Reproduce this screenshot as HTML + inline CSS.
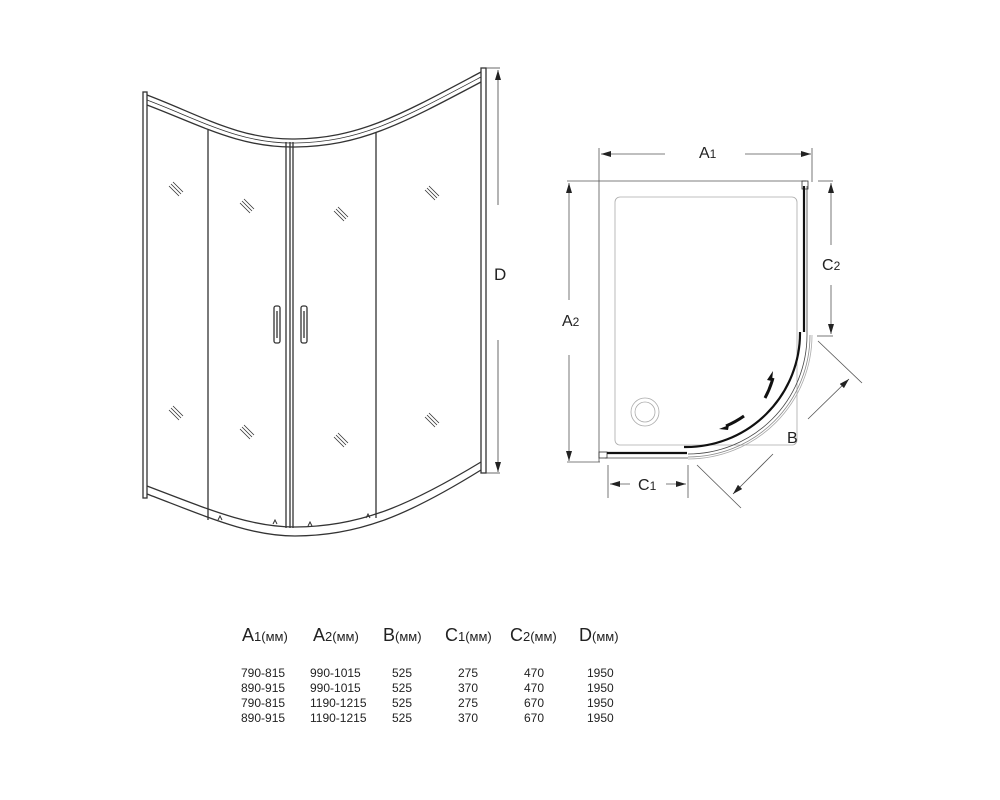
<!DOCTYPE html>
<html><head><style>
body{margin:0;background:#fff;}
svg{display:block;}
text{font-family:"Liberation Sans",sans-serif;fill:#222;}
</style></head><body>
<svg width="1000" height="800" viewBox="0 0 1000 800" xmlns="http://www.w3.org/2000/svg">
<defs>
<marker id="ar" markerWidth="10" markerHeight="6" refX="10" refY="3" orient="auto" markerUnits="userSpaceOnUse">
<path d="M0,0 L10,3 L0,6 z" fill="#222"/></marker>
</defs>
<g fill="none" stroke="#333" stroke-width="1.3">
<rect x="143" y="92" width="4" height="406"/>
<rect x="481" y="68" width="5" height="405"/>
<!-- top curves -->
<path d="M147,95 C200,115 240,140 295,139 C360,138 400,115 481,72"/>
<path d="M147,105 C200,125 240,148 295,147 C360,146 400,125 481,82"/>
<path d="M147,100 C200,120 240,144 295,143 C360,142 400,120 481,77" stroke-width="0.8"/>
<!-- bottom curves -->
<path d="M147,486 C210,510 250,527 295,527 C360,527 410,505 481,462"/>
<path d="M147,494 C210,518 250,536 295,536 C360,536 410,514 481,470"/>
<line x1="208" y1="130" x2="208" y2="520"/>
<line x1="286" y1="142" x2="286" y2="528"/>
<line x1="290" y1="142" x2="290" y2="528"/>
<line x1="293" y1="142" x2="293" y2="528"/>
<line x1="376" y1="132" x2="376" y2="518"/>
<rect x="274" y="306" width="6" height="37" rx="2"/>
<line x1="277" y1="311" x2="277" y2="338"/>
<rect x="301" y="306" width="6" height="37" rx="2"/>
<line x1="304" y1="311" x2="304" y2="338"/>
<path d="M218,520 l2,-4 l2,4 M273,524 l2,-4 l2,4 M308,526 l2,-4 l2,4 M366,518 l2,-4 l2,4" stroke-width="1"/>
<g stroke-width="0.8">
<path d="M169,186 l10,10 M171,184 l10,10 M173,182 l10,10"/>
<path d="M240,203 l10,10 M242,201 l10,10 M244,199 l10,10"/>
<path d="M334,211 l10,10 M336,209 l10,10 M338,207 l10,10"/>
<path d="M425,190 l10,10 M427,188 l10,10 M429,186 l10,10"/>
<path d="M169,410 l10,10 M171,408 l10,10 M173,406 l10,10"/>
<path d="M240,429 l10,10 M242,427 l10,10 M244,425 l10,10"/>
<path d="M334,437 l10,10 M336,435 l10,10 M338,433 l10,10"/>
<path d="M425,417 l10,10 M427,415 l10,10 M429,413 l10,10"/>
</g>
</g>
<g stroke="#444" stroke-width="0.8" fill="none">
<line x1="486" y1="68" x2="500" y2="68"/>
<line x1="486" y1="473" x2="500" y2="473"/>
<line x1="498" y1="205" x2="498" y2="70" marker-end="url(#ar)"/>
<line x1="498" y1="340" x2="498" y2="472" marker-end="url(#ar)"/>
</g>
<text x="494" y="280" font-size="17">D</text>

<g fill="none" stroke="#555" stroke-width="0.8">
<line x1="599" y1="148" x2="599" y2="462"/>
<line x1="812" y1="148" x2="812" y2="182"/>
<line x1="567" y1="181" x2="806" y2="181"/>
<line x1="567" y1="462" x2="600" y2="462"/>
<line x1="665" y1="154" x2="601" y2="154" marker-end="url(#ar)"/>
<line x1="745" y1="154" x2="811" y2="154" marker-end="url(#ar)"/>
<line x1="569" y1="300" x2="569" y2="183" marker-end="url(#ar)"/>
<line x1="569" y1="355" x2="569" y2="461" marker-end="url(#ar)"/>
<rect x="615" y="197" width="182" height="248" rx="5" stroke="#aaa"/>
<circle cx="645" cy="412" r="14" stroke="#aaa"/>
<circle cx="645" cy="412" r="10" stroke="#aaa"/>
<line x1="818" y1="181" x2="833" y2="181"/>
<line x1="817" y1="336" x2="833" y2="336"/>
<line x1="831" y1="245" x2="831" y2="183" marker-end="url(#ar)"/>
<line x1="831" y1="285" x2="831" y2="334" marker-end="url(#ar)"/>
<line x1="608" y1="465" x2="608" y2="498"/>
<line x1="688" y1="465" x2="688" y2="498"/>
<line x1="630" y1="484" x2="610" y2="484" marker-end="url(#ar)"/>
<line x1="666" y1="484" x2="686" y2="484" marker-end="url(#ar)"/>
<line x1="818" y1="341" x2="862" y2="383"/>
<line x1="697" y1="465" x2="741" y2="508"/>
<line x1="808" y1="419" x2="849" y2="379" marker-end="url(#ar)"/>
<line x1="773" y1="454" x2="733" y2="494" marker-end="url(#ar)"/>
<path d="M810,335 A122,122 0 0 1 688,457" stroke="#888"/>
<path d="M807,335 A119,119 0 0 1 688,454" stroke="#444"/>
<path d="M812,335 A124,124 0 0 1 688,459" stroke="#aaa"/>
<line x1="605" y1="458" x2="688" y2="458" stroke="#444"/>
<line x1="807" y1="186" x2="807" y2="335" stroke="#444"/>
<rect x="599" y="452" width="8" height="6" stroke="#333"/>
<rect x="802" y="181" width="6" height="8" stroke="#333"/>
</g>
<g fill="none" stroke="#111" stroke-width="2.2">
<line x1="804" y1="186" x2="804" y2="332"/>
<line x1="607" y1="453" x2="687" y2="453"/>
<path d="M800,332 A114,114 0 0 1 684,447"/>
<path d="M765,398 A95,95 0 0 0 773,378" stroke-width="3"/>
<path d="M744,416 A95,95 0 0 1 726,426" stroke-width="3"/>
</g>
<path d="M773,371 l-6,9 l5,1 z" fill="#111"/>
<path d="M719,429 l10,-4 l-1,5 z" fill="#111"/>
<text x="699" y="158" font-size="16">A<tspan font-size="12">1</tspan></text>
<text x="562" y="326" font-size="16">A<tspan font-size="12">2</tspan></text>
<text x="822" y="270" font-size="16">C<tspan font-size="12">2</tspan></text>
<text x="638" y="490" font-size="16">C<tspan font-size="12">1</tspan></text>
<text x="787" y="443" font-size="16">B</text>

<g font-size="18">
<text x="242" y="641">A<tspan font-size="13">1(мм)</tspan></text>
<text x="313" y="641">A<tspan font-size="13">2(мм)</tspan></text>
<text x="383" y="641">B<tspan font-size="13">(мм)</tspan></text>
<text x="445" y="641">C<tspan font-size="13">1(мм)</tspan></text>
<text x="510" y="641">C<tspan font-size="13">2(мм)</tspan></text>
<text x="579" y="641">D<tspan font-size="13">(мм)</tspan></text>
</g>
<g font-size="12">
<text x="241" y="677">790-815</text><text x="310" y="677">990-1015</text><text x="392" y="677">525</text><text x="458" y="677">275</text><text x="524" y="677">470</text><text x="587" y="677">1950</text>
<text x="241" y="692">890-915</text><text x="310" y="692">990-1015</text><text x="392" y="692">525</text><text x="458" y="692">370</text><text x="524" y="692">470</text><text x="587" y="692">1950</text>
<text x="241" y="707">790-815</text><text x="310" y="707">1190-1215</text><text x="392" y="707">525</text><text x="458" y="707">275</text><text x="524" y="707">670</text><text x="587" y="707">1950</text>
<text x="241" y="722">890-915</text><text x="310" y="722">1190-1215</text><text x="392" y="722">525</text><text x="458" y="722">370</text><text x="524" y="722">670</text><text x="587" y="722">1950</text>
</g>
</svg>
</body></html>
